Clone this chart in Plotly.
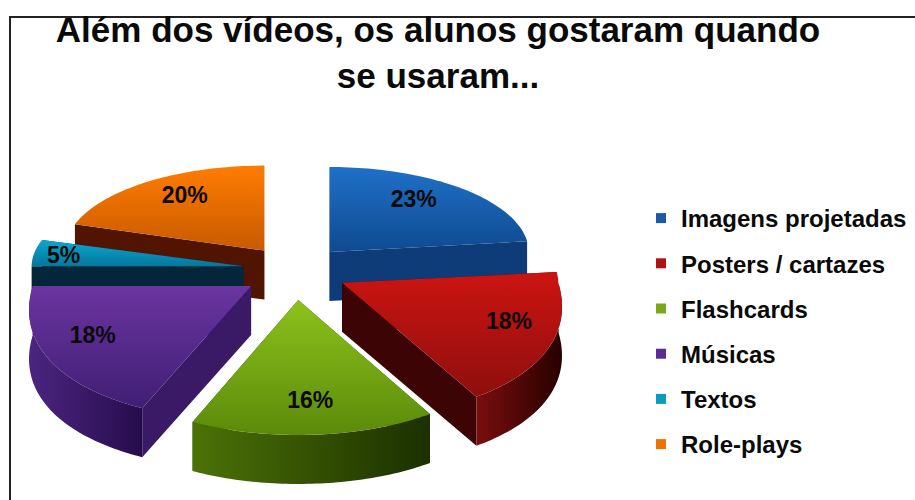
import numpy as np
import plotly.graph_objects as go

labels = ["Imagens projetadas", "Posters / cartazes", "Flashcards", "Músicas", "Textos", "Role-plays"]
values = [23, 18, 16, 18, 5, 20]

top_colors = [("#0f4a90", "#1f70c8"), ("#8e0f0d", "#cc1412"), ("#5c8a0a", "#8cc21c"),
              ("#401e74", "#6a35a0"), ("#06769c", "#0aa8d0"), ("#c85a00", "#ff7c00")]
cut_colors = ["#0e3c78", "#3c0404", "#2c4800", "#3a1a66", "#03263a", "#501400"]
wall_colors = [("#14508f", "#0c3566"), ("#7a0e0e", "#280000"), ("#4c7206", "#1c3000"),
               ("#4c2580", "#260c4c"), ("#067090", "#043a50"), ("#a04000", "#501400")]
legend_colors = ["#1a5aa8", "#b01212", "#7aa818", "#5a2c94", "#0a9cc0", "#ee7400"]
draw_order = [5, 0, 4, 3, 1, 2]

CX, CY, DEPTH = 295, 270, 49
RX, RX_FRONT, RY_BACK, RY_FRONT = 212, 40, 85, 135
EXP_X, EXP_BACK, EXP_FRONT = 52, 24, 30
SLICE_XSCALE = [0.94, 1.02, 1.0, 1.03, 1.0, 0.94]
LABEL_FRAC_X = [0.64, 0.79, 0.76, 0.78, 0.86, 0.68]
LABEL_FRAC_Y = [0.80, 0.70, 0.76, 0.71, 0.69, 0.77]
FONT = "Liberation Sans"


def rim(a, xscale=1.0):
    a = np.asarray(a, dtype=float)
    c, s = np.cos(a), np.sin(a)
    rx = (RX + RX_FRONT * np.maximum(0, -c)) * xscale
    ry = np.where(c > 0, RY_BACK, RY_FRONT)
    return s * rx, -c * ry


def explode(mid):
    c = np.cos(mid)
    return EXP_X * np.sin(mid), -c * (EXP_BACK if c > 0 else EXP_FRONT)


edges = np.radians(np.cumsum([0] + values) * 3.6)
fig = go.Figure()


def poly(xs, ys, **kw):
    fig.add_trace(go.Scatter(x=list(xs), y=list(ys), mode="none", fill="toself",
                             hoverinfo="skip", showlegend=False, **kw))


def grad(kind, pair):
    return dict(type=kind, colorscale=[[0, pair[0]], [1, pair[1]]])


for i in draw_order:
    a0, a1 = edges[i], edges[i + 1]
    mid = (a0 + a1) / 2
    ox, oy = explode(mid)
    ax, ay = CX + ox, CY + oy
    t = np.linspace(a0, a1, 60)
    rx, ry = rim(t, SLICE_XSCALE[i])
    px, py = ax + rx, ay + ry
    # cut walls
    for e in (0, -1):
        poly([ax, px[e], px[e], ax], [ay, py[e], py[e] + DEPTH, ay + DEPTH], fillcolor=cut_colors[i])
    # outer wall, only on the half that faces the viewer
    front = (t >= np.pi / 2) & (t <= 3 * np.pi / 2)
    if front.sum() > 1:
        fx, fy = px[front], py[front]
        poly(np.r_[fx, fx[::-1]], np.r_[fy, fy[::-1] + DEPTH], fillgradient=grad("horizontal", wall_colors[i]))
    # top face
    poly(np.r_[ax, px], np.r_[ay, py], fillgradient=grad("vertical", top_colors[i]))

lab_x, lab_y, lab_t = [], [], []
for i, v in enumerate(values):
    mid = (edges[i] + edges[i + 1]) / 2
    ox, oy = explode(mid)
    rx, ry = rim(mid, SLICE_XSCALE[i])
    lab_x.append(CX + ox + LABEL_FRAC_X[i] * rx)
    lab_y.append(CY + oy + LABEL_FRAC_Y[i] * ry)
    lab_t.append(f"{v}%")
fig.add_trace(go.Scatter(x=lab_x, y=lab_y, text=lab_t, mode="text", hoverinfo="skip", showlegend=False,
                         textfont=dict(family=FONT, size=23, color="#0a0a0a", weight="bold")))

for i, name in enumerate(labels):
    fig.add_trace(go.Scatter(x=[None], y=[None], mode="markers", name=name, legendgroup=name,
                             marker=dict(symbol="square", size=10, color=legend_colors[i])))

fig.update_layout(
    width=915, height=500, margin=dict(l=0, r=0, t=0, b=0),
    paper_bgcolor="white", plot_bgcolor="white",
    xaxis=dict(visible=False, range=[0, 915], fixedrange=True),
    yaxis=dict(visible=False, range=[500, 0], fixedrange=True),
    title=dict(text="<b>Além dos vídeos, os alunos gostaram quando<br>se usaram...</b>",
               x=438 / 915, xanchor="center", y=1 - 42 / 500, yanchor="top",
               font=dict(family=FONT, size=35, color="#0a0a0a")),
    legend=dict(x=641 / 915, y=1 - 196 / 500, xanchor="left", yanchor="top",
                bgcolor="rgba(0,0,0,0)", traceorder="grouped", tracegroupgap=11,
                itemwidth=30, font=dict(family=FONT, size=24, color="#0a0a0a", weight="bold")),
    shapes=[dict(type="path", xref="x", yref="y", path="M 10 500 L 10 17 L 915 17",
                 line=dict(color="#222222", width=2))],
)
fig.write_html("out.html", config={"displayModeBar": False},
               post_script="document.body.style.margin='0';")
